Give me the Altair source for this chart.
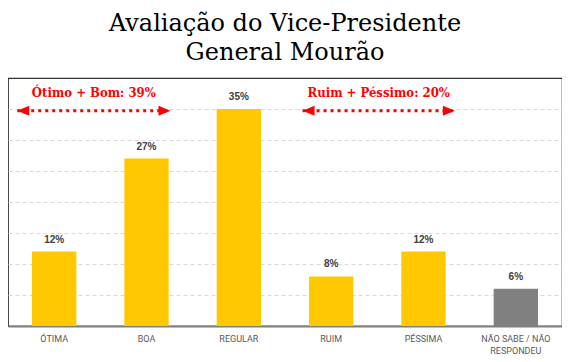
import altair as alt
import pandas as pd

categories = ["ÓTIMA", "BOA", "REGULAR", "RUIM", "PÉSSIMA", "NÃO SABE / NÃO\nRESPONDEU"]
values = [12, 27, 35, 8, 12, 6]
bar_colors = ["#FFC800", "#FFC800", "#FFC800", "#FFC800", "#FFC800", "#808080"]

group_labels = ["Ótimo + Bom: 39%", "Ruim + Péssimo: 20%"]
group_start = [0.1, 3.19]
group_end = [1.76, 4.84]
arrow_level = [34.7, 34.7]
label_level = [37.6, 37.6]

bars_df = pd.DataFrame({
    "cat": categories,
    "value": values,
    "color": bar_colors,
    "label": [f"{v}%" for v in values],
})
ann_df = pd.DataFrame({
    "text": group_labels,
    "x0": group_start,
    "x1": group_end,
    "xm": [(a + b) / 2 for a, b in zip(group_start, group_end)],
    "ya": arrow_level,
    "yt": label_level,
})

W, H = 554, 248
yscale = alt.Scale(domain=[0, 40], nice=False)

xenc = alt.X(
    "cat:N",
    sort=categories,
    scale=alt.Scale(paddingInner=0.52, paddingOuter=0.26),
    axis=alt.Axis(
        title=None,
        labelAngle=0,
        labelExpr="split(datum.label, '\\n')",
        labelFont="Roboto",
        labelFontSize=9,
        labelColor="#595959",
        labelPadding=8,
        labelLineHeight=12,
        ticks=False,
        domainColor="#7f7f7f",
        domainWidth=2,
        grid=False,
    ),
)

bars = alt.Chart(bars_df).mark_bar().encode(
    x=xenc,
    y=alt.Y(
        "value:Q",
        scale=yscale,
        axis=alt.Axis(
            title=None, labels=False, ticks=False, domain=False,
            values=[5, 10, 15, 20, 25, 30, 35],
            gridColor="#d9d9d9", gridDash=[4, 3], gridWidth=1,
        ),
    ),
    color=alt.Color("color:N", scale=None),
)

vals = alt.Chart(bars_df).mark_text(
    dy=-7, baseline="bottom", font="Liberation Sans", fontWeight="bold",
    fontSize=10, color="#404040",
).encode(
    x=alt.X("cat:N", sort=categories),
    y=alt.Y("value:Q", scale=yscale),
    text="label:N",
)

xq = alt.Scale(domain=[0, 6], nice=False, zero=False)

rule = alt.Chart(ann_df).mark_rule(
    color="#FF0000", strokeWidth=3, strokeDash=[3, 4]
).encode(
    x=alt.X("x0:Q", scale=xq, axis=None),
    x2="x1:Q",
    y=alt.Y("ya:Q", scale=yscale),
)

left_head = alt.Chart(ann_df).mark_point(
    shape="M0,0L1.2,-0.5L1.2,0.5Z", filled=True, color="#FF0000", size=400, opacity=1
).encode(
    x=alt.X("x0:Q", scale=xq, axis=None),
    y=alt.Y("ya:Q", scale=yscale),
)

right_head = alt.Chart(ann_df).mark_point(
    shape="M0,0L-1.2,-0.5L-1.2,0.5Z", filled=True, color="#FF0000", size=400, opacity=1
).encode(
    x=alt.X("x1:Q", scale=xq, axis=None),
    y=alt.Y("ya:Q", scale=yscale),
)

ann_text = alt.Chart(ann_df).mark_text(
    font="'DejaVu Serif Condensed', 'Liberation Serif'", fontWeight="bold",
    fontSize=13, color="#FF0000", baseline="middle",
).encode(
    x=alt.X("xm:Q", scale=xq, axis=None),
    y=alt.Y("yt:Q", scale=yscale),
    text="text:N",
)

base = alt.layer(bars, vals).resolve_scale(x="shared")
ann = alt.layer(rule, left_head, right_head, ann_text)

chart = alt.layer(base, ann).resolve_scale(x="independent").properties(
    width=W,
    height=H,
    title=alt.TitleParams(
        text=["Avaliação do Vice-Presidente", "General Mourão"],
        font="DejaVu Serif",
        fontSize=24,
        fontWeight="normal",
        color="#000000",
        anchor="middle",
        lineHeight=29,
        offset=13,
    ),
    autosize=alt.AutoSizeParams(type="none"),
    padding={"left": 0, "top": 70, "right": 0, "bottom": 30},
).configure_view(
    stroke="#333333", strokeWidth=1.2
).configure_axis(
    labelFontWeight="normal"
)

chart.save("out.html", embed_options={"renderer": "svg", "actions": False})
